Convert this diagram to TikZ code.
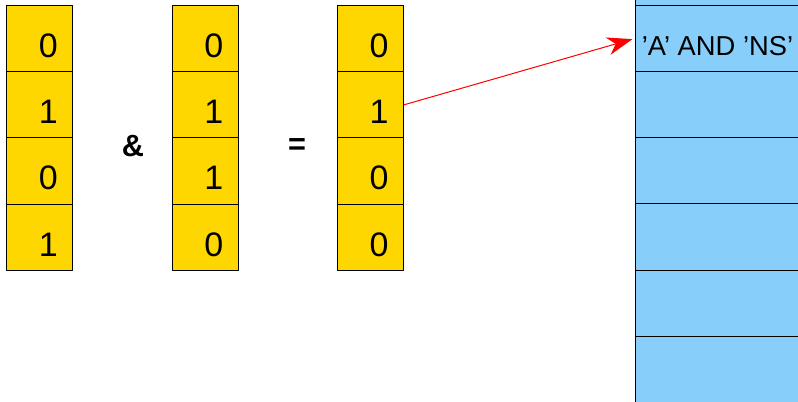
\documentclass[tikz,border=0pt]{standalone}
\usepackage{fontspec}
\setmainfont{Liberation Sans}
\usetikzlibrary{arrows.meta}
\definecolor{bityellow}{HTML}{FFD700}
\definecolor{slotblue}{HTML}{87CEFA}
\begin{document}
\begin{tikzpicture}[x=0.75pt, y=-0.75pt, line join=round, >={Stealth[length=19pt,width=13.5pt,inset=6pt]},
	bit/.style={draw, fill=bityellow, line width=0.75pt, minimum width=49.7pt, minimum height=49.7pt, inner sep=0pt,
		label={[font=\fontsize{25.5}{26}\selectfont, xshift=6.4pt, yshift=-5.3pt]center:#1}},
	slot/.style={draw, fill=slotblue, line width=0.75pt, minimum width=123pt, minimum height=49.7pt, inner sep=0pt,
		label={[font=\fontsize{20.5}{21}\selectfont, yshift=-5.6pt]center:#1}},
	slot/.default={},
	op/.style={font=\bfseries\fontsize{23}{23}\selectfont}]
	\useasboundingbox (0,0) rectangle (798,402);
	\clip (0,0) rectangle (798,402);
	\def\xa{39.7} \def\xb{205.2} \def\xc{370.5} \def\xr{717.5}
	% first operand
	\node[bit=0] (a1) at (\xa,38.5) {};
	\node[bit=1] (a2) at (\xa,104.8) {};
	\node[bit=0] (a3) at (\xa,171.1) {};
	\node[bit=1] (a4) at (\xa,237.4) {};
	\node[op] (andop) at (133,146) {\&};
	% second operand
	\node[bit=0] (b1) at (\xb,38.5) {};
	\node[bit=1] (b2) at (\xb,104.8) {};
	\node[bit=1] (b3) at (\xb,171.1) {};
	\node[bit=0] (b4) at (\xb,237.4) {};
	\node[op] (eqop) at (297,147) {=};
	% result
	\node[bit=0] (c1) at (\xc,38.5) {};
	\node[bit=1] (c2) at (\xc,104.8) {};
	\node[bit=0] (c3) at (\xc,171.1) {};
	\node[bit=0] (c4) at (\xc,237.4) {};
	% table rows
	\node[slot] (r0) at (\xr,-27.6) {};
	\node[slot={'A' AND 'NS'}] (r1) at (\xr,38.4) {};
	\node[slot] (r2) at (\xr,104.6) {};
	\node[slot] (r3) at (\xr,170.8) {};
	\node[slot] (r4) at (\xr,237) {};
	\node[slot] (r5) at (\xr,303.3) {};
	\node[slot] (r6) at (\xr,369.6) {};
	\draw[->, red, line width=0.75pt, shorten >=2pt] (c2.east) -- (r1.west);
\end{tikzpicture}
\end{document}
